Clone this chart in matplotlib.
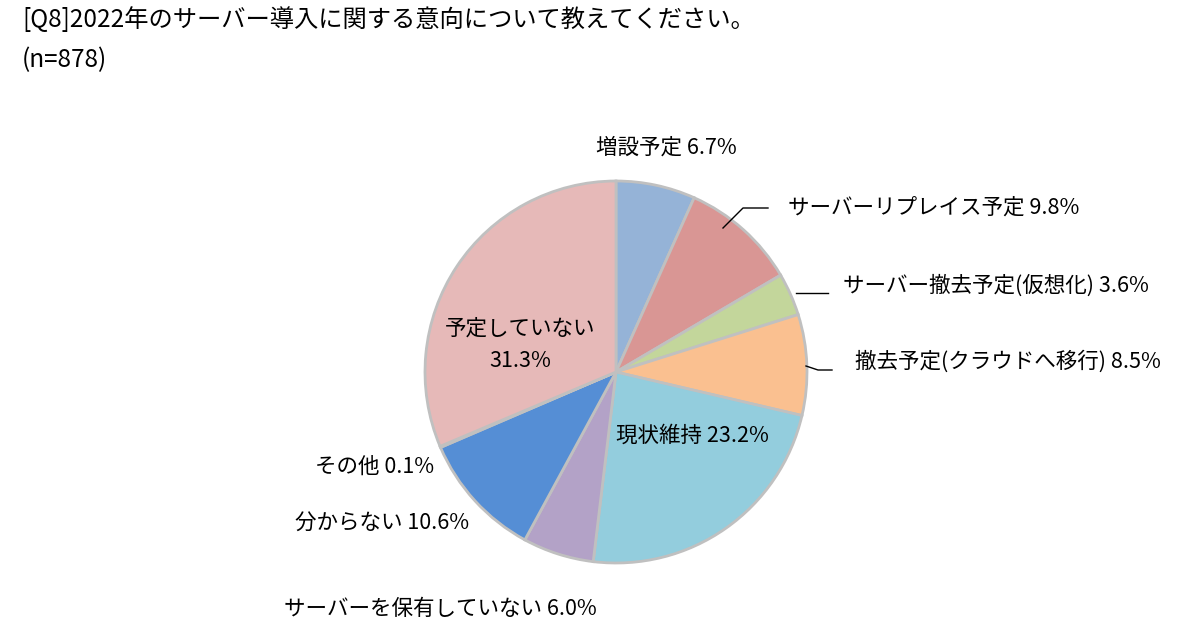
import matplotlib.pyplot as plt

plt.rcParams['font.family'] = ['Noto Sans CJK JP', 'DejaVu Sans']

# data (clockwise from 12 o'clock)
categories = ['増設予定', 'サーバーリプレイス予定', 'サーバー撤去予定(仮想化)',
              '撤去予定(クラウドへ移行)', '現状維持', 'サーバーを保有していない',
              '分からない', 'その他', '予定していない']
shares = [6.7, 9.8, 3.6, 8.5, 23.2, 6.0, 10.6, 0.1, 31.3]
colors = ['#95b3d7', '#d99694', '#c3d69b', '#fac090', '#93cddd', '#b3a2c7',
          '#558ed5', '#8eb4e3', '#e6b9b8']

W, H = 1200, 644
cx, cy, r = 616, 372, 191
FS = 15.5

fig = plt.figure(figsize=(W / 100, H / 100), dpi=100)
ax = fig.add_axes([(cx - r) / W, (H - cy - r) / H, 2 * r / W, 2 * r / H])
ax.pie(shares, colors=colors, startangle=90, counterclock=False, radius=1,
       wedgeprops=dict(edgecolor='#c0c0c0', linewidth=2))
ax.set_xlim(-1, 1)
ax.set_ylim(-1, 1)
ax.set_aspect('equal')
ax.axis('off')


def to_data(px, py):
    return (px - cx) / r, (cy - py) / r


def lbl(i):
    return f'{categories[i]} {shares[i]:.1f}%'


# label layout: (index, x px, y px, ha)
layout = [
    (0, 666, 148, 'center'),
    (1, 788, 208, 'left'),
    (2, 843, 286, 'left'),
    (3, 855, 362, 'left'),
    (7, 375, 467, 'center'),
    (6, 382, 523, 'center'),
    (5, 440, 609, 'center'),
]
for i, px, py, ha in layout:
    x, y = to_data(px, py)
    ax.text(x, y, lbl(i), ha=ha, va='center', fontsize=FS, clip_on=False)

# inside labels
x, y = to_data(692, 436)
ax.text(x, y, lbl(4), ha='center', va='center', fontsize=FS)
x, y = to_data(520, 345)
ax.text(x, y, f'{categories[8]}\n{shares[8]:.1f}%', ha='center', va='center',
        fontsize=FS, linespacing=1.6)

# leader lines
leaders = [
    [(723, 228), (743, 208), (768, 208)],
    [(796, 293), (828, 293)],
    [(806, 366), (818, 370), (832, 370)],
]
for pts in leaders:
    xs, ys = zip(*[to_data(px, py) for px, py in pts])
    ax.plot(xs, ys, color='black', linewidth=1, clip_on=False)

fig.text(22 / W, 1 - 20 / H, '[Q8]2022年のサーバー導入に関する意向について教えてください。',
         fontsize=17.5, va='center', ha='left')
fig.text(22 / W, 1 - 60 / H, '(n=878)', fontsize=17.5, va='center', ha='left')

fig.savefig('out.png', dpi=100, facecolor='white')
